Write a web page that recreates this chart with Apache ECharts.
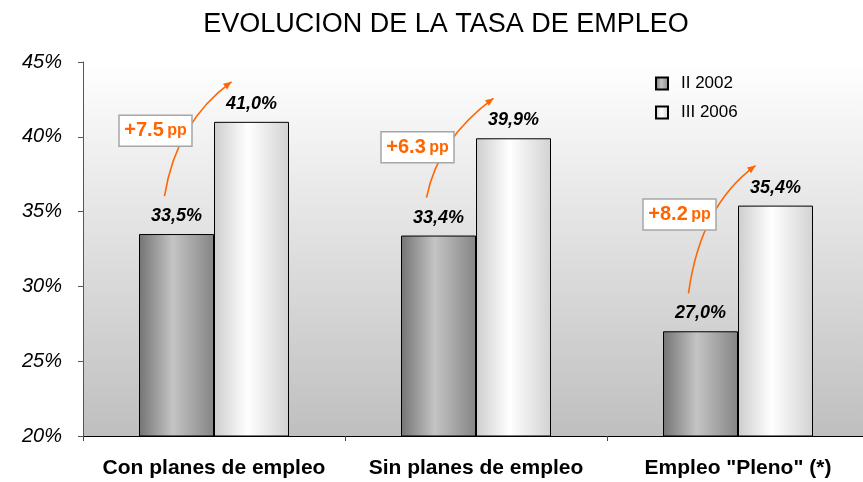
<!DOCTYPE html>
<html>
<head>
<meta charset="utf-8">
<script src="https://cdn.jsdelivr.net/npm/echarts@6/dist/echarts.min.js"></script>
<style>
  html, body { margin: 0; padding: 0; background: #fff; overflow: hidden; }
  #chart { width: 870px; height: 482px; }
</style>
</head>
<body>
<div id="chart"></div>
<script>
  // datos
  const categories = ['Con planes de empleo', 'Sin planes de empleo', 'Empleo "Pleno" (*)'];
  const serie2002 = [33.5, 33.4, 27.0];
  const serie2006 = [41.0, 39.9, 35.4];
  const deltas = ['+7.5', '+6.3', '+8.2'];
  const seriesNames = ['II 2002', 'III 2006'];

  const orange = '#ff6600';
  const font = 'Arial, "Liberation Sans", sans-serif';

  function barGrad(edgeL, mid, edgeR) {
    return new echarts.graphic.LinearGradient(0, 0, 1, 0, [
      { offset: 0, color: edgeL },
      { offset: 0.45, color: mid },
      { offset: 1, color: edgeR }
    ]);
  }

  const label = {
    show: true,
    position: 'top',
    distance: 9,
    color: '#000',
    fontSize: 18,
    fontWeight: 'bold',
    fontStyle: 'italic',
    fontFamily: font,
    formatter: p => p.value.toFixed(1).replace('.', ',') + '%'
  };

  let myChart = echarts.init(document.getElementById('chart'));
  let option = {
    animation: false,
    title: {
      text: 'EVOLUCION DE LA TASA DE EMPLEO',
      left: 441,
      top: 6,
      textAlign: 'center',
      textStyle: { fontSize: 27, fontWeight: 'normal', color: '#000', fontFamily: font }
    },
    legend: {
      orient: 'vertical',
      left: 650,
      top: 70,
      itemWidth: 12,
      itemHeight: 12,
      itemGap: 12,
      icon: 'rect',
      data: seriesNames,
      textStyle: { fontSize: 17, color: '#000', fontFamily: font, padding: [0, 0, 0, 8] }
    },
    grid: {
      left: 83,
      top: 62,
      width: 786,
      height: 374,
      show: true,
      borderWidth: 0,
      backgroundColor: new echarts.graphic.LinearGradient(0, 0, 0, 1, [
        { offset: 0, color: '#ffffff' },
        { offset: 1, color: '#bfbfbf' }
      ])
    },
    xAxis: {
      type: 'category',
      data: categories,
      axisLine: { lineStyle: { color: '#000', width: 1 } },
      axisTick: { show: true, interval: 0, length: 5, lineStyle: { color: '#444' } },
      axisLabel: { interval: 0, color: '#000', fontSize: 21, fontWeight: 'bold', fontFamily: font, margin: 22 }
    },
    yAxis: {
      type: 'value',
      min: 20,
      max: 45,
      interval: 5,
      splitLine: { show: false },
      axisLine: { show: true, lineStyle: { color: '#555', width: 1 } },
      axisTick: { show: true, length: 5, lineStyle: { color: '#555' } },
      axisLabel: {
        color: '#000', fontSize: 20, fontStyle: 'italic', fontFamily: font, margin: 21,
        formatter: '{value}%'
      }
    },
    series: [
      {
        name: seriesNames[0],
        type: 'bar',
        data: serie2002,
        barWidth: 75,
        barGap: '0%',
        itemStyle: { color: barGrad('#747474', '#c4c4c4', '#858585'), borderColor: '#000', borderWidth: 1 },
        label: label
      },
      {
        name: seriesNames[1],
        type: 'bar',
        data: serie2006,
        barWidth: 75,
        itemStyle: { color: barGrad('#cdcdcd', '#ffffff', '#d2d2d2'), borderColor: '#000', borderWidth: 1 },
        label: label
      }
    ]
  };
  myChart.setOption(option);

  // flechas naranjas con la diferencia en puntos porcentuales
  let elements = [];
  categories.forEach((c, i) => {
    let p1 = myChart.convertToPixel({ seriesIndex: 0 }, [i, serie2002[i]]);
    let p2 = myChart.convertToPixel({ seriesIndex: 1 }, [i, serie2006[i]]);
    let grayX = p1[0] - 37.5, whiteX = p2[0] + 37.5;
    let sx = grayX - 12, sy = p1[1] - 38;
    let ex = whiteX - 20, ey = p2[1] - 40;
    let cx = sx + 12, cy = ey + 40;
    elements.push({
      type: 'bezierCurve',
      z: 10,
      shape: { x1: sx, y1: sy, x2: ex, y2: ey, cpx1: cx, cpy1: cy },
      style: { stroke: orange, lineWidth: 1.6, fill: null }
    });
    let ang = Math.atan2(ey - cy, ex - cx);
    let L = 8, W = 3.5;
    let bx = ex - L * Math.cos(ang), by = ey - L * Math.sin(ang);
    elements.push({
      type: 'polygon',
      z: 10,
      shape: { points: [
        [ex, ey],
        [bx + W * Math.sin(ang), by - W * Math.cos(ang)],
        [bx - W * Math.sin(ang), by + W * Math.cos(ang)]
      ] },
      style: { fill: orange }
    });
    let boxX = grayX - 21, boxY = p2[1] + 9;
    elements.push({
      type: 'rect',
      z: 11,
      shape: { x: boxX - 36.5, y: boxY - 15.5, width: 73, height: 31 },
      style: { fill: '#fff', stroke: '#a6a6a6', lineWidth: 1.5 }
    });
    elements.push({
      type: 'text',
      z: 12,
      x: boxX,
      y: boxY,
      style: {
        text: '{a|' + deltas[i] + '} {b|pp}',
        align: 'center',
        verticalAlign: 'middle',
        rich: {
          a: { fontSize: 20, fontWeight: 'bold', fill: orange, fontFamily: font },
          b: { fontSize: 16, fontWeight: 'bold', fill: orange, fontFamily: font }
        }
      }
    });
  });
  myChart.setOption({ graphic: elements });
</script>
</body>
</html>
